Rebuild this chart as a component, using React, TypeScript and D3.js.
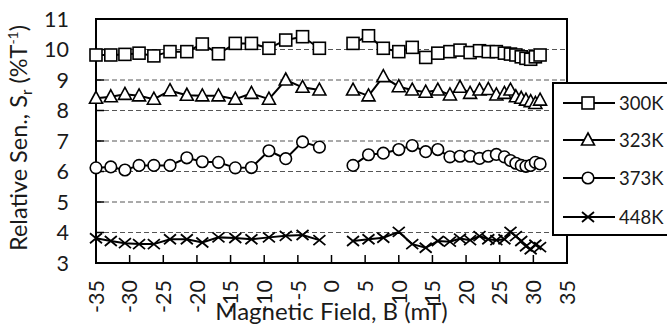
import * as d3 from "d3";

// field positions (mT), two measurement sweeps with a gap round zero
const fieldNeg = [-35, -32.8, -30.7, -28.6, -26.4, -24, -21.5, -19.2, -16.8, -14.3, -11.9, -9.3, -6.8, -4.3, -1.8];
const fieldPos = [3.2, 5.5, 7.7, 10, 12, 14, 15.8, 17.6, 19.1, 20.6, 22, 23.3, 24.5, 25.7, 26.6, 27.4, 28.2, 28.9, 29.6, 30.3, 31];

const s300Neg = [9.82, 9.82, 9.84, 9.88, 9.79, 9.93, 9.93, 10.18, 9.86, 10.2, 10.2, 10.04, 10.31, 10.42, 10.04];
const s300Pos = [10.2, 10.45, 10.04, 9.93, 10.07, 9.74, 9.88, 9.93, 9.98, 9.9, 9.96, 9.93, 9.93, 9.88, 9.85, 9.82, 9.76, 9.71, 9.68, 9.76, 9.82];

const s323Neg = [8.4, 8.45, 8.53, 8.48, 8.37, 8.65, 8.5, 8.48, 8.48, 8.37, 8.56, 8.37, 9.0, 8.76, 8.67];
const s323Pos = [8.67, 8.48, 9.11, 8.78, 8.67, 8.6, 8.67, 8.51, 8.76, 8.56, 8.67, 8.69, 8.51, 8.56, 8.67, 8.45, 8.4, 8.34, 8.29, 8.23, 8.34];

const s373Neg = [6.12, 6.15, 6.05, 6.2, 6.2, 6.2, 6.45, 6.32, 6.3, 6.12, 6.13, 6.68, 6.42, 6.97, 6.8];
const s373Pos = [6.2, 6.55, 6.6, 6.72, 6.85, 6.65, 6.72, 6.48, 6.5, 6.5, 6.43, 6.5, 6.56, 6.48, 6.36, 6.27, 6.2, 6.17, 6.2, 6.3, 6.25];

const s448Neg = [3.81, 3.72, 3.65, 3.62, 3.62, 3.78, 3.78, 3.67, 3.84, 3.82, 3.78, 3.84, 3.89, 3.92, 3.75];
const s448Pos = [3.72, 3.78, 3.83, 4.02, 3.62, 3.5, 3.72, 3.7, 3.8, 3.75, 3.88, 3.78, 3.75, 3.78, 4.02, 3.88, 3.72, 3.55, 3.45, 3.6, 3.52];

const seriesNames = ["300K", "323K", "373K", "448K"];
const seriesMarkers = ["square", "triangle", "circle", "cross"];

const xTicks = d3.range(-35, 36, 5);
const yTicks = d3.range(3, 12, 1);
const gridTicks = d3.range(4, 11, 1);

const FONT = "Lato, 'Liberation Sans', sans-serif";
const TXT = "#1a1a1a";

function Marker({ kind, cx, cy }: { kind: string; cx: number; cy: number }) {
  const st = { fill: "white", stroke: "black", strokeWidth: 1.6 };
  if (kind === "square") return <rect x={cx - 6} y={cy - 6} width={12} height={12} {...st} />;
  if (kind === "triangle")
    return <path d={`M${cx},${cy - 7}L${cx + 6.5},${cy + 5}L${cx - 6.5},${cy + 5}Z`} {...st} />;
  if (kind === "circle") return <circle cx={cx} cy={cy} r={5.8} {...st} />;
  return (
    <path d={`M${cx - 6},${cy - 5}L${cx + 6},${cy + 5}M${cx - 6},${cy + 5}L${cx + 6},${cy - 5}`}
      fill="none" stroke="black" strokeWidth={1.8} />
  );
}

export default function App() {
  const left = 96, right = 567, top = 19, bottom = 263;
  const x = d3.scaleLinear().domain([-35, 35]).range([left, right]);
  const y = d3.scaleLinear().domain([3, 11]).range([bottom, top]);
  const line = d3.line<[number, number]>().x((d) => x(d[0])).y((d) => y(d[1]));

  const series = [
    [s300Neg, s300Pos],
    [s323Neg, s323Pos],
    [s373Neg, s373Pos],
    [s448Neg, s448Pos],
  ];

  const legendY = [103, 140, 178, 217];

  return (
    <svg width={667} height={327} style={{ position: "absolute", left: 0, top: 0 }} fontFamily={FONT}>
      <rect width={667} height={327} fill="white" />
      {gridTicks.map((t) => (
        <line key={t} x1={left} x2={right} y1={y(t)} y2={y(t)} stroke="#555" strokeWidth={1} strokeDasharray="5,3" />
      ))}
      {/* inner tick marks */}
      {yTicks.map((t) => (
        <line key={"yt" + t} x1={left} x2={left + 8} y1={y(t)} y2={y(t)} stroke="black" strokeWidth={1.5} />
      ))}
      {xTicks.map((t) => (
        <line key={"xt" + t} x1={x(t)} x2={x(t)} y1={bottom} y2={bottom - 8} stroke="black" strokeWidth={1.5} />
      ))}
      <rect x={left} y={top} width={right - left} height={bottom - top} fill="none" stroke="black" strokeWidth={2} />

      {series.map((segs, i) => (
        <g key={i}>
          {[fieldNeg, fieldPos].map((xs, j) => {
            const pts = xs.map((v, k) => [v, segs[j][k]] as [number, number]);
            return (
              <g key={j}>
                <path d={line(pts) || ""} fill="none" stroke="black" strokeWidth={2} />
                {pts.map((p, k) => (
                  <Marker key={k} kind={seriesMarkers[i]} cx={x(p[0])} cy={y(p[1])} />
                ))}
              </g>
            );
          })}
        </g>
      ))}

      {yTicks.map((t) => (
        <text key={"yl" + t} x={69} y={y(t)} dy="0.36em" textAnchor="end" fontSize={21.5} fill={TXT}>
          {t}
        </text>
      ))}
      {xTicks.map((t) => (
        <text key={"xl" + t} transform={`translate(${x(t)},280) rotate(-90)`} dy="0.36em" textAnchor="end"
          fontSize={21.5} fill={TXT}>
          {t}
        </text>
      ))}

      <text x={(left + right) / 2} y={320} textAnchor="middle" fontSize={24} fill={TXT}>
        Magnetic Field, B (mT)
      </text>
      <text transform="translate(27,138) rotate(-90)" textAnchor="middle" fontSize={23.5} fill={TXT}>
        Relative Sen., S<tspan fontSize={15} dy="5">r</tspan>
        <tspan dy="-5"> (%T</tspan>
        <tspan fontSize={14} dy="-9">-1</tspan>
        <tspan dy="9">)</tspan>
      </text>

      <rect x={553} y={83} width={120} height={152} fill="white" stroke="black" strokeWidth={2} />
      {seriesNames.map((n, i) => (
        <g key={n}>
          <line x1={563} x2={615} y1={legendY[i]} y2={legendY[i]} stroke="black" strokeWidth={2} />
          <Marker kind={seriesMarkers[i]} cx={588} cy={legendY[i]} />
          <text x={619} y={legendY[i]} dy="0.36em" fontSize={18.5} fill={TXT}>
            {n}
          </text>
        </g>
      ))}
    </svg>
  );
}
